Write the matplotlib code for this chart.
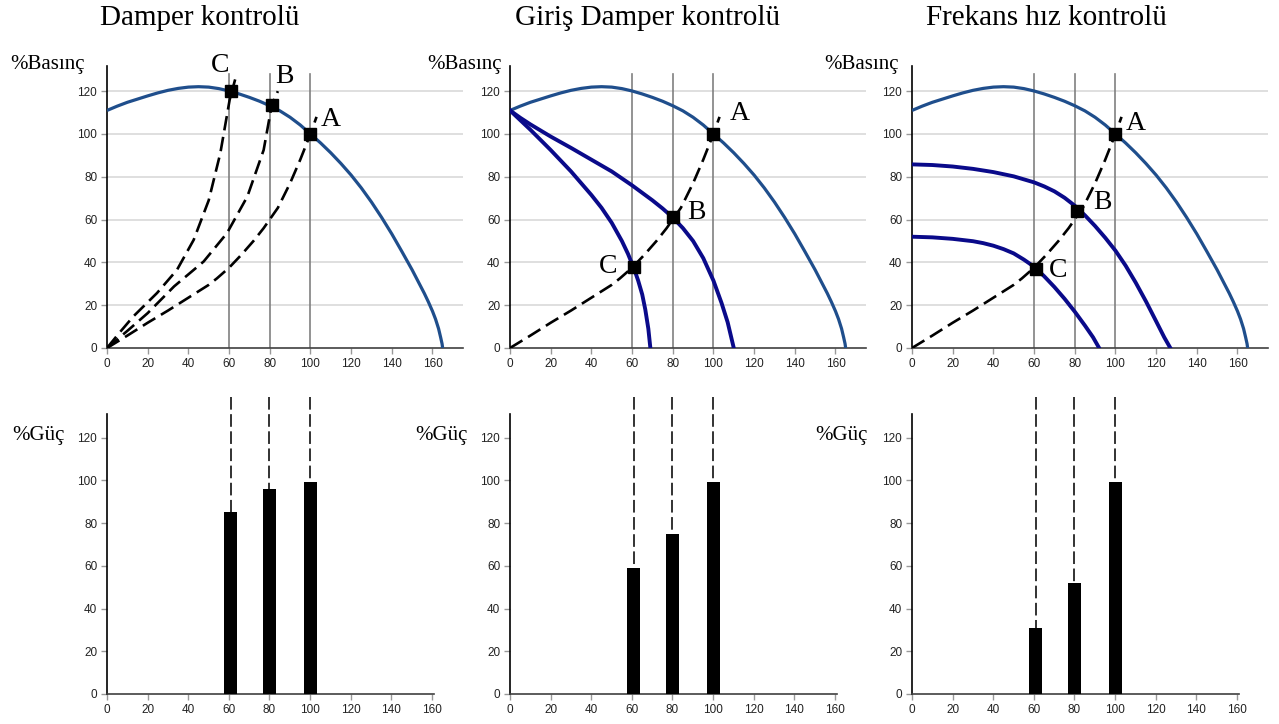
import matplotlib.pyplot as plt
import numpy as np

# fan curve at full speed (% flow, % pressure)
fan_x = [0, 5, 10, 15, 20, 25, 30, 35, 40, 45, 50, 55, 60, 65, 70, 75, 80, 85, 90, 95,
         100, 105, 110, 115, 120, 125, 130, 135, 140, 145, 150, 153, 156, 158, 160, 161.5,
         163, 164, 164.7, 165]
fan_y = [111, 113, 114.8, 116.3, 117.8, 119.2, 120.4, 121.3, 121.9, 122.1, 121.9, 121.2, 120.1,
         118.7, 117.1, 115.3, 113.2, 110.8, 107.8, 104.2, 100, 95.8, 91.2, 86.2, 80.8, 74.8, 68.2,
         61, 53.3, 45, 36.5, 31, 25.5, 21.5, 17.2, 13.5, 9, 5, 2, 0]

# system curve (A)
sys_x = [0, 10, 20, 30, 40, 50, 54, 60, 66, 72, 77, 84, 90, 95, 100, 103]
sys_y = [0, 5.8, 11.8, 17.5, 23.5, 29.5, 32.5, 37.5, 43.5, 50, 56, 65.5, 77, 88, 100, 108]

# throttled system curves (damper)
sysb_x = [0, 10, 20, 33, 47.5, 59, 69, 77, 81, 84]
sysb_y = [0, 8, 16.3, 28.8, 40.4, 53.7, 70.8, 92.5, 113.5, 120]
sysc_x = [0, 6, 13, 24.6, 34.4, 42.6, 50, 55.7, 60.3, 63]
sysc_y = [0, 7, 14.8, 25.7, 36.5, 50.5, 69, 91, 116, 125.5]

# inlet damper fan curves
inlb_x = [0, 5, 10, 20, 30, 40, 50, 60, 70, 75, 80, 85, 90, 95, 100, 104, 107, 110]
inlb_y = [111, 107.6, 104.5, 98.8, 93.5, 88, 82.5, 76, 69, 65.2, 61, 56, 50, 42, 31.5, 21, 12, 0]
inlc_x = [0, 10, 20, 30, 40, 45, 50, 55, 58, 61, 63, 65, 66.5, 68, 69]
inlc_y = [111, 102, 92.5, 82.5, 71.5, 65.5, 58.5, 50, 44, 37, 31.5, 25, 18, 9, 0]

# reduced speed fan curves
vfdb_x = [0, 10, 20, 30, 40, 50, 60, 65, 70, 75, 80, 85, 90, 95, 100, 105, 110, 115, 120, 124, 127]
vfdb_y = [85.8, 85.5, 84.8, 83.7, 82.2, 80.2, 77.4, 75.5, 73.2, 70.2, 66.5, 62, 57, 51.5, 45.5,
          38.5, 30.5, 21.8, 12.5, 5, 0]
vfdc_x = [0, 10, 20, 30, 35, 40, 45, 50, 55, 60, 65, 70, 75, 80, 85, 89, 92]
vfdc_y = [52, 51.7, 51, 49.9, 49, 47.8, 46.2, 44.2, 41.3, 38, 33.5, 28.5, 23, 17, 10.5, 5, 0]

flows = [60, 80, 100]
titles = ["Damper kontrolü", "Giriş Damper kontrolü", "Frekans hız kontrolü"]

# operating points A, B, C per panel
pts_x = [[100, 81, 61], [100, 80, 61], [100, 81, 61]]
pts_y = [[100, 113.5, 120], [100, 61, 38], [100, 64, 37]]
lbl_pos = [[(110, 107), (87, 127), (55.4, 132)],
           [(113, 109.6), (91.8, 63.3), (48.4, 38)],
           [(110, 105), (93.4, 68), (72, 36)]]
labels = ["A", "B", "C"]

# power bars
bar_x = [61, 80, 100]
power = [[85, 96, 99], [59, 75, 99], [31, 52, 99]]

serif = "Liberation Serif"
sans = "Liberation Sans"
fan_col = "#1f4e8c"
red_col = "#0a0a8a"

W, H = 1279, 724
fig = plt.figure(figsize=(W / 100, H / 100), dpi=100)

lefts = [107, 510, 912]
title_x = [200, 648, 1046]
bas_x = [10, 427, 824]
guc_x = [12, 415, 815]


def style_axes(ax, grid):
    for s in ["top", "right"]:
        ax.spines[s].set_visible(False)
    ax.spines["left"].set_color("black")
    ax.spines["left"].set_linewidth(1.2)
    ax.spines["bottom"].set_color("#404040")
    ax.spines["bottom"].set_linewidth(1.2)
    ax.set_xticks(np.arange(0, 161, 20))
    ax.set_yticks(np.arange(0, 121, 20))
    ax.tick_params(length=4, width=1, color="#999999", labelsize=8.5, labelcolor="#222222", pad=3)
    for lab in ax.get_xticklabels() + ax.get_yticklabels():
        lab.set_fontfamily(sans)
    if grid:
        for yv in range(20, 121, 20):
            ax.axhline(yv, color="#d9d9d9", lw=1.2, zorder=0)


for i in range(3):
    L = lefts[i]
    # top panel
    ax = fig.add_axes([L / W, 1 - 348 / H, 356 / W, 282.5 / H])
    ax.set_xlim(0, 175)
    ax.set_ylim(0, 132)
    style_axes(ax, True)
    for f in flows:
        ax.plot([f, f], [0, 128], color="#808080", lw=1.2, zorder=1)
    ax.plot(fan_x, fan_y, color=fan_col, lw=2.3, zorder=3, solid_capstyle="butt")
    if i == 0:
        curves = [(sys_x, sys_y), (sysb_x, sysb_y), (sysc_x, sysc_y)]
    else:
        curves = [(sys_x, sys_y)]
    for cx, cy in curves:
        ax.plot(cx, cy, color="black", lw=1.9, dashes=(5.5, 2.5), zorder=4)
    if i == 1:
        ax.plot(inlb_x, inlb_y, color=red_col, lw=2.8, zorder=3)
        ax.plot(inlc_x, inlc_y, color=red_col, lw=2.8, zorder=3)
    if i == 2:
        ax.plot(vfdb_x, vfdb_y, color=red_col, lw=2.8, zorder=3)
        ax.plot(vfdc_x, vfdc_y, color=red_col, lw=2.8, zorder=3)
    ax.plot(pts_x[i], pts_y[i], "s", color="black", ms=8, zorder=5)
    for lab, (tx, ty) in zip(labels, lbl_pos[i]):
        ax.text(tx, ty, lab, fontsize=20, family=serif, ha="center", va="center", clip_on=False)

    fig.text(title_x[i] / W, 1 - 18 / H, titles[i], fontsize=21, family=serif, ha="center", va="center")
    fig.text(bas_x[i] / W, 1 - 65 / H, "%Basınç", fontsize=15, family=serif, ha="left", va="center")

    # bottom panel
    bx = fig.add_axes([L / W, 1 - 694 / H, 327 / W, 280 / H])
    bx.set_xlim(0, 161)
    bx.set_ylim(0, 131)
    style_axes(bx, False)
    bx.bar(bar_x, power[i], width=6.5, color="black", zorder=3)
    for xb, pb in zip(bar_x, power[i]):
        bx.plot([xb, xb], [139, pb], color="#222222", lw=1.3, dashes=(7, 2.5), clip_on=False, zorder=2)
    fig.text(guc_x[i] / W, 1 - 435 / H, "%Güç", fontsize=15, family=serif, ha="left", va="center")

fig.savefig("out.png", dpi=100)
